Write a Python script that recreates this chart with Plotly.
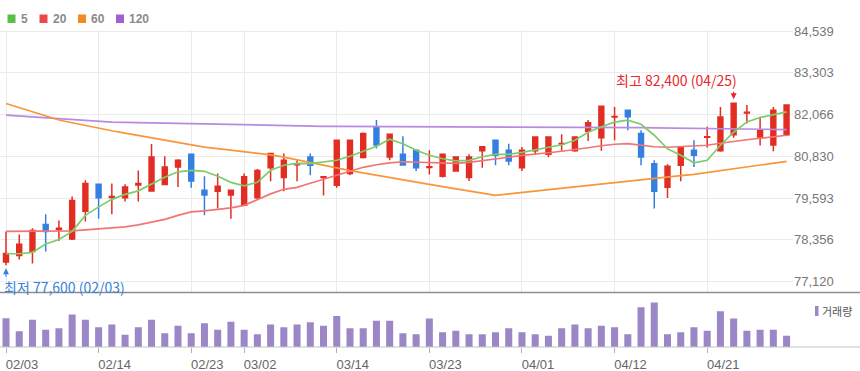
import plotly.graph_objects as go

dates = ["02/03","02/04","02/07","02/08","02/09","02/10","02/11","02/14","02/15","02/16",
         "02/17","02/18","02/21","02/22","02/23","02/24","02/25","02/28","03/02","03/03",
         "03/04","03/07","03/08","03/10","03/11","03/14","03/15","03/16","03/17","03/18",
         "03/21","03/22","03/23","03/24","03/25","03/28","03/29","03/30","03/31","04/01",
         "04/04","04/05","04/06","04/07","04/08","04/11","04/12","04/13","04/14","04/15",
         "04/18","04/19","04/20","04/21","04/22","04/25","04/26","04/27","04/28","04/29"]

opens = [77700,77890,78010,78810,78660,78380,79200,80000,79610,79600,
         79980,79800,79990,80510,80890,79820,79790,79680,79380,79600,
         80490,80200,80580,80810,80200,79970,80320,80790,81700,80810,
         80890,81010,80500,80240,80390,80200,80990,81300,81010,80490,
         80990,80890,81190,80990,81570,81380,81990,82190,81500,80610,
         79910,80560,81010,81390,80990,81470,82110,81400,81160,81470]
highs = [78600,78510,78700,79110,78930,79640,80120,80010,80020,80000,
         80410,81190,80830,80740,80900,80240,80320,79830,80320,80450,
         80930,80910,80710,80910,80240,81320,81320,81530,81900,81500,
         81420,81020,81010,80900,80820,80890,81120,81320,81200,81100,
         81420,81420,81480,81420,81900,82330,82290,82200,81600,80710,
         80590,81120,81300,81700,82290,82400,82350,82000,82290,82350]
lows = [77600,77770,77650,78010,78320,78350,78900,78980,79110,79490,
        79490,79790,79980,79920,79900,79080,79280,78980,79360,79560,
        80090,79790,80090,80270,79670,79900,80270,80760,81060,80710,
        80560,80390,80290,80200,80380,80100,80490,80560,80560,80390,
        80890,80800,80990,80960,81280,80990,81300,81600,80560,79280,
        79590,80090,80510,81090,80960,81380,81800,81150,80980,81440]
closes = [77950,78220,78630,78600,78700,79520,80020,79600,79640,79920,
          80020,80810,80510,80710,80100,79680,79940,79820,80220,80410,
          80910,80710,80610,80560,80220,81300,81300,81500,81160,81480,
          80570,80490,80520,80890,80810,80810,81110,80860,80690,81010,
          81400,81400,81210,81400,81820,82310,82010,82000,80810,79790,
          80530,81100,80860,81410,81990,82400,82130,81600,82190,82350]

ma5 = [77942,77942,77980,78233,78366,78604,79078,79330,79553,79701,
       79805,79998,80206,80369,80413,80384,80235,80057,79953,80057,
       80413,80562,80621,80612,80651,80710,80829,80977,81125,81333,
       81200,81007,80858,80755,80695,80710,80814,80888,80888,80947,
       81022,81096,81170,81303,81541,81704,81838,81897,81778,81452,
       81051,80858,80636,80710,81155,81541,81847,81977,82060,82143]
ma20 = [78604,78604,78604,78604,78604,78618,78648,78684,78707,78737,
        78796,78871,78960,79078,79182,79212,79256,79301,79375,79538,
        79716,79850,79909,80028,80146,80265,80399,80502,80577,80636,
        80666,80651,80636,80621,80621,80651,80695,80740,80799,80858,
        80888,80933,80977,81022,81081,81140,81185,81206,81155,81111,
        81096,81111,81140,81155,81214,81274,81318,81363,81407,81452]
ma60 = [82392,82268,82146,82021,81903,81823,81740,81660,81585,81517,
        81446,81372,81298,81223,81152,81102,81057,81013,80968,80921,
        80870,80802,80728,80648,80565,80485,80404,80333,80262,80191,
        80123,80057,79995,79930,79864,79799,79734,79672,79713,79755,
        79793,79835,79876,79921,79971,80022,80060,80099,80137,80176,
        80215,80253,80292,80345,80402,80458,80514,80571,80627,80680]
ma120 = [82045,82018,81989,81962,81935,81906,81879,81849,81840,81835,
         81826,81820,81811,81805,81799,81787,81778,81766,81754,81746,
         81734,81725,81719,81718,81716,81715,81714,81712,81711,81710,
         81709,81708,81706,81705,81704,81703,81702,81701,81700,81699,
         81698,81697,81697,81696,81695,81694,81689,81683,81677,81671,
         81665,81659,81650,81647,81641,81638,81632,81629,81623,81620]

volume = [14.5,8.0,13.7,8.7,9.4,16.4,13.7,10.0,11.4,6.2,
          10.0,13.7,7.0,10.7,7.0,12.0,8.7,12.7,8.7,6.4,
          11.4,10.0,11.4,12.5,10.7,15.7,9.4,9.4,13.2,13.2,
          7.0,6.4,14.4,7.5,8.2,6.4,6.4,7.5,9.4,7.5,
          6.4,5.7,9.4,11.4,9.4,10.7,10.0,6.4,20.0,22.5,
          6.4,7.5,10.0,8.2,18.0,14.4,8.2,8.7,8.7,5.7]

tick_dates = ["02/03","02/14","02/23","03/02","03/14","03/23","04/01","04/12","04/21"]
price_ticks = [77120,78356.5,79593,80829.5,82066,83302.5,84539]
price_tick_text = ["77,120","78,356","79,593","80,830","82,066","83,303","84,539"]

ma_names = ["5","20","60","120"]
ma_colors = ["#7dcb6a","#f07575","#f7963a","#b88ae2"]
legend_colors = ["#5cbf45","#ee4747","#f5891f","#a15fd2"]

RED = "#e22d22"
BLUE = "#347fe0"
VOLC = "#9b86c6"

W, H = 860, 371
L, R, T, B = 0, 67, 30, 24
PW = W - L - R
PH = H - T - B


def px_x(x):
    return (x - L) / PW


def px_y(y):
    return (H - B - y) / PH


fig = go.Figure()
fig.add_trace(go.Candlestick(
    x=dates, open=opens, high=highs, low=lows, close=closes,
    increasing=dict(line=dict(color=RED, width=1.5), fillcolor=RED),
    decreasing=dict(line=dict(color=BLUE, width=1.5), fillcolor=BLUE),
    whiskerwidth=0, xaxis="x", yaxis="y", showlegend=False, hoverinfo="skip"))

for vals, c in zip([ma120, ma60, ma20, ma5], [ma_colors[3], ma_colors[2], ma_colors[1], ma_colors[0]]):
    fig.add_trace(go.Scatter(x=dates, y=vals, mode="lines",
                             line=dict(color=c, width=1.7),
                             xaxis="x", yaxis="y", showlegend=False, hoverinfo="skip"))

fig.add_trace(go.Bar(x=dates, y=volume, marker=dict(color=VOLC, line=dict(width=0)),
                     xaxis="x2", yaxis="y2", showlegend=False, hoverinfo="skip"))

price_dom0 = px_y(292.5)
vol_dom1 = px_y(293.5)

xr = [-6 / 13.23, (793 - 6) / 13.23]

fig.update_layout(
    width=W, height=H,
    margin=dict(l=L, r=R, t=T, b=B),
    paper_bgcolor="white", plot_bgcolor="white",
    showlegend=False,
    boxgap=0.47, bargap=0.47,
    font=dict(family="Liberation Sans, Noto Sans CJK KR", color="#666"),
    xaxis=dict(type="category", range=xr, domain=[0, 1], anchor="y",
               tickvals=tick_dates, showticklabels=False, ticks="",
               showgrid=True, gridcolor="#ebebeb", gridwidth=1,
               zeroline=False, showline=False,
               rangeslider=dict(visible=False), fixedrange=True),
    xaxis2=dict(type="category", range=xr, domain=[0, 1], anchor="y2", matches="x",
                tickvals=tick_dates, ticktext=tick_dates,
                showgrid=False, ticks="outside", ticklen=5, tickcolor="#b0b0b0",
                tickfont=dict(size=13, color="#666", family="Liberation Sans"),
                ticklabelshift=16, zeroline=False, showline=False,
                rangeslider=dict(visible=False)),
    yaxis=dict(domain=[price_dom0, 1], range=[76794, 84569], side="right",
               tickvals=price_ticks, ticktext=price_tick_text,
               tickfont=dict(size=13, color="#777", family="Liberation Sans"),
               showgrid=True, gridcolor="#ebebeb", gridwidth=1,
               ticks="", zeroline=False, showline=False, fixedrange=True),
    yaxis2=dict(domain=[0, vol_dom1], range=[0, 27], showticklabels=False,
                showgrid=False, zeroline=False, showline=False, ticks=""),
)

shapes = []
# panel separator and baseline
shapes.append(dict(type="line", xref="paper", yref="paper", x0=0, x1=W / PW,
                   y0=px_y(292.5), y1=px_y(292.5), line=dict(color="#8e8e8e", width=1.5)))
shapes.append(dict(type="line", xref="paper", yref="paper", x0=0, x1=W / PW,
                   y0=px_y(347), y1=px_y(347), line=dict(color="#c4c4c4", width=1)))

annotations = []
# MA legend
leg_x = [7.5, 39.5, 78, 116]
for name, c, lx in zip(ma_names, legend_colors, leg_x):
    shapes.append(dict(type="rect", xref="paper", yref="paper",
                       x0=px_x(lx), x1=px_x(lx + 8), y0=px_y(23), y1=px_y(14.5),
                       fillcolor=c, line=dict(width=0)))
    annotations.append(dict(xref="paper", yref="paper", x=px_x(lx + 11), y=px_y(19),
                            text="<b>" + name + "</b>", showarrow=False,
                            xanchor="left", yanchor="middle",
                            font=dict(size=12, color="#8a8a8a", family="Liberation Sans")))

# volume legend
shapes.append(dict(type="rect", xref="paper", yref="paper",
                   x0=px_x(815), x1=px_x(818.5), y0=px_y(316), y1=px_y(306),
                   fillcolor=VOLC, line=dict(width=0)))
annotations.append(dict(xref="paper", yref="paper", x=px_x(820), y=px_y(311),
                        text="거래량", showarrow=False, xanchor="left", yanchor="middle",
                        font=dict(size=11, color="#555", family="Noto Sans CJK KR")))

# high / low markers
hi_i = highs.index(max(highs))
lo_i = lows.index(min(lows))
hi_txt = "최고 {:,} ({})".format(max(highs), dates[hi_i])
lo_txt = "최저 {:,} ({})".format(min(lows), dates[lo_i])
annotations.append(dict(xref="paper", yref="paper", x=px_x(676), y=px_y(80),
                        text=hi_txt, showarrow=False, xanchor="center", yanchor="middle",
                        font=dict(size=14, color="#e8262c", family="Noto Sans CJK KR")))
annotations.append(dict(xref="x", yref="y", x=dates[hi_i], y=max(highs), text="",
                        showarrow=True, ax=0, ay=-13, standoff=4,
                        arrowcolor="#e8262c", arrowwidth=1.2, arrowhead=2, arrowsize=1))
annotations.append(dict(xref="paper", yref="paper", x=px_x(2), y=px_y(287),
                        text=lo_txt, showarrow=False, xanchor="left", yanchor="middle",
                        font=dict(size=14, color="#3a7fdc", family="Noto Sans CJK KR")))
annotations.append(dict(xref="x", yref="y", x=dates[lo_i], y=min(lows), text="",
                        showarrow=True, ax=0, ay=13, standoff=3,
                        arrowcolor="#3a7fdc", arrowwidth=1.2, arrowhead=2, arrowsize=1))

fig.update_layout(shapes=shapes, annotations=annotations)
fig.write_html("out.html",
               config={"displayModeBar": False, "staticPlot": True},
               post_script="document.body.style.margin='0';document.body.style.overflow='hidden';")
